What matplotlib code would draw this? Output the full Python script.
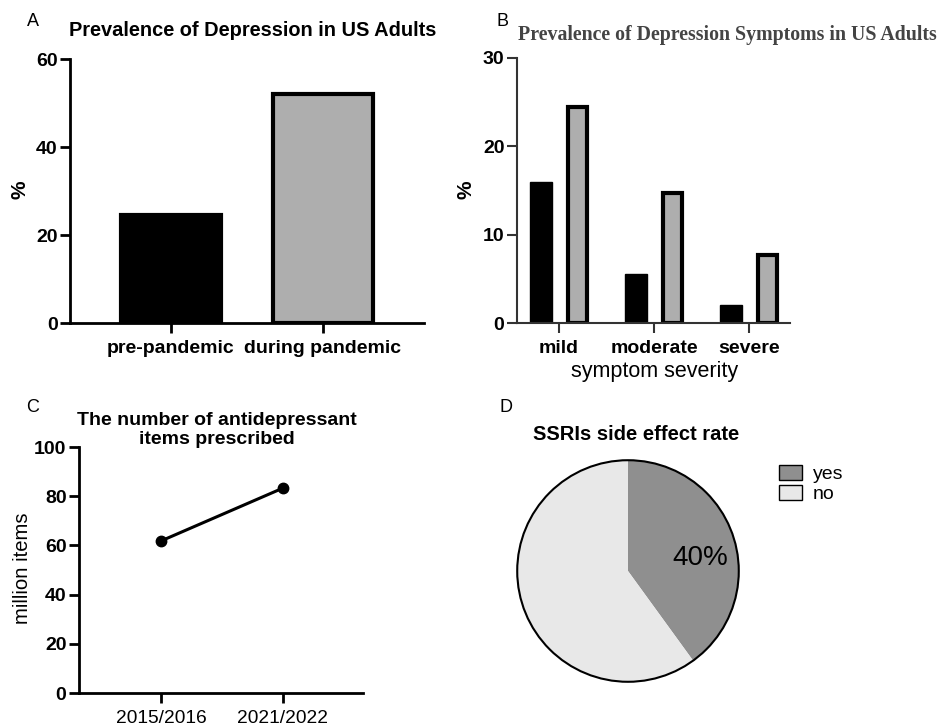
import numpy as np
import matplotlib.pyplot as plt
from matplotlib.patches import Patch

plt.rcParams['font.family'] = ['Liberation Sans', 'DejaVu Sans']

# panel A
prev_labels = ['pre-pandemic', 'during pandemic']
prev_values = [24.5, 52.0]

# panel B
severity = ['mild', 'moderate', 'severe']
sympt_pre = [16.0, 5.6, 2.0]
sympt_during = [24.4, 14.7, 7.7]

# panel C
periods = ['2015/2016', '2021/2022']
items_million = [61.8, 83.3]

# panel D
side_labels = ['yes', 'no']
side_share = [40, 60]

W, H = 940, 725
fig = plt.figure(figsize=(W / 100, H / 100), dpi=100)


def box(l, t, r, b):
    return [l / W, 1 - b / H, (r - l) / W, (b - t) / H]


def txt(x, y, s, **kw):
    fig.text(x / W, 1 - y / H, s, ha=kw.pop('ha', 'center'),
             va=kw.pop('va', 'center'), **kw)


def style(ax, lw=2.0, color='black', size=14):
    for sp in ('top', 'right'):
        ax.spines[sp].set_visible(False)
    for sp in ('left', 'bottom'):
        ax.spines[sp].set_linewidth(lw)
        ax.spines[sp].set_color(color)
    ax.tick_params(width=lw, length=7, color=color, labelsize=size, pad=2)
    ax.tick_params(axis='x', pad=5)


# A
axA = fig.add_axes(box(70, 59, 424, 323))
xa = np.arange(len(prev_labels))
axA.bar(xa, prev_values, width=0.66, color=['black', '#aeaeae'],
        edgecolor='black', linewidth=3)
axA.set_ylim(0, 60)
axA.set_yticks([0, 20, 40, 60])
axA.set_xlim(-0.664, 1.664)
axA.set_xticks(xa)
axA.set_xticklabels(prev_labels)
style(axA)
for t in axA.get_xticklabels() + axA.get_yticklabels():
    t.set_fontweight('bold')
txt(33, 21, 'A', fontsize=13)
txt(253, 30, 'Prevalence of Depression in US Adults', fontsize=14.4,
    fontweight='bold')
txt(20, 190, '%', fontsize=15, fontweight='bold', rotation=90)

# B
axB = fig.add_axes(box(517, 58, 790, 323))
xb = np.arange(len(severity))
axB.bar(xb - 0.185, sympt_pre, width=0.23, color='black',
        edgecolor='black', linewidth=1)
axB.bar(xb + 0.195, sympt_during, width=0.21, color='#aeaeae',
        edgecolor='black', linewidth=3)
axB.set_ylim(0, 30)
axB.set_yticks([0, 10, 20, 30])
axB.set_xlim(-0.442, 2.432)
axB.set_xticks(xb)
axB.set_xticklabels(severity)
style(axB, lw=1.5, color='#333333')
for t in axB.get_xticklabels() + axB.get_yticklabels():
    t.set_fontweight('bold')
txt(503, 21, 'B', fontsize=13)
txt(727, 35, 'Prevalence of Depression Symptoms in US Adults',
    fontsize=14.3, fontweight='bold', color='#444444',
    family=['Liberation Serif', 'DejaVu Serif'])
txt(466, 190, '%', fontsize=15, fontweight='bold', rotation=90)
txt(655, 372, 'symptom severity', fontsize=15.5)

# C
axC = fig.add_axes(box(79, 447, 363, 693))
xc = np.arange(len(periods))
axC.plot(xc, items_million, '-o', color='black', lw=2.2, ms=7.5)
axC.set_ylim(0, 100)
axC.set_yticks([0, 20, 40, 60, 80, 100])
axC.set_xlim(-0.672, 1.656)
axC.set_xticks(xc)
axC.set_xticklabels(periods)
style(axC)
axC.tick_params(axis='x', labelsize=13.8)
for t in axC.get_yticklabels():
    t.set_fontweight('bold')
txt(33, 408, 'C', fontsize=13)
txt(217, 430, 'The number of antidepressant\nitems prescribed', fontsize=14,
    fontweight='bold', linespacing=1.08)
txt(23, 568, 'million items', fontsize=14.6, rotation=90)

# D
axD = fig.add_axes(box(515, 458, 741, 684))
wedges, _ = axD.pie(side_share, colors=['#8f8f8f', '#e8e8e8'],
                    startangle=90, counterclock=False, radius=1,
                    wedgeprops=dict(linewidth=0))
axD.add_patch(plt.Circle((0, 0), 1, fill=False, lw=1.5, color='black'))
axD.set_xlim(-1.02, 1.02)
axD.set_ylim(-1.02, 1.02)
axD.set_aspect('equal')
axD.text(0.65, 0.12, f'{side_share[0]}%', fontsize=20, ha='center',
         va='center')
txt(506, 408, 'D', fontsize=13)
txt(636, 435, 'SSRIs side effect rate', fontsize=14.5, fontweight='bold')
handles = [Patch(facecolor=c, edgecolor='black', linewidth=1)
           for c in ['#8f8f8f', '#e8e8e8']]
fig.legend(handles, side_labels, loc='upper left',
           bbox_to_anchor=(769 / W, 1 - 455 / H), frameon=False,
           fontsize=14, handlelength=1.2, handleheight=0.8,
           handletextpad=0.55, labelspacing=0.1, borderpad=0)

fig.savefig('out.png', dpi=100)
